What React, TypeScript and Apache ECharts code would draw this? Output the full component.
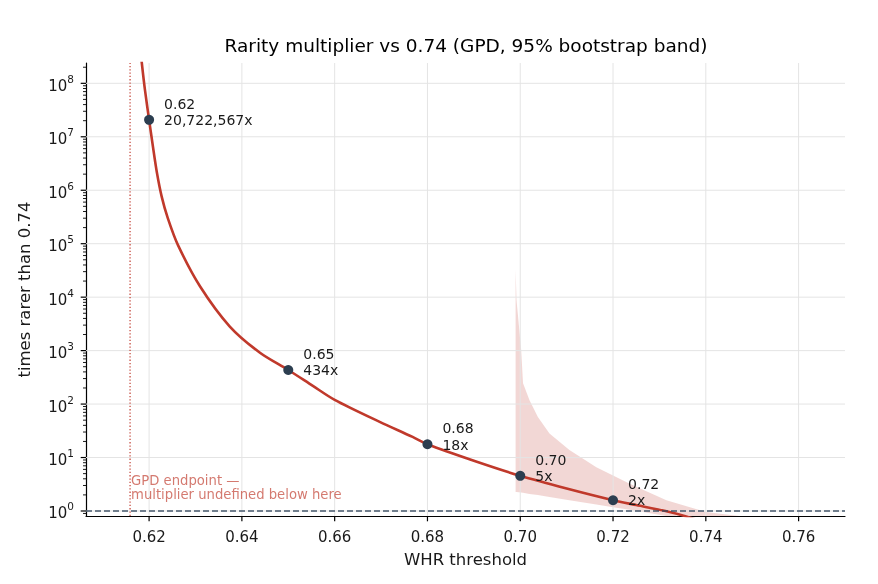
import React, { useEffect, useRef } from "react";
import * as echarts from "echarts";

const FONT = "DejaVu Sans";
const TEXT = "#1a1a1a";

// Curve: times rarer than 0.74
const curveX = [0.618, 0.61843, 0.6191, 0.62, 0.6208, 0.62166, 0.62273, 0.62403, 0.6262, 0.631, 0.6374, 0.6439, 0.65, 0.6553, 0.66, 0.6697, 0.6768, 0.68, 0.69, 0.7, 0.71, 0.72, 0.725, 0.7313, 0.7356, 0.74];
const curveY = [5.6e8, 2.4e8, 7.6e7, 20722567, 6.8e6, 2.2e6, 7.5e5, 3.0e5, 9.5e4, 1.58e4, 2820, 912, 434, 219, 120, 46.5, 24.3, 17.7, 8.7, 4.55, 2.63, 1.59, 1.29, 1.0, 0.8, 0.6];

// Highlighted points
const pointX = [0.62, 0.65, 0.68, 0.7, 0.72];
const pointY = [20722567, 434, 17.7, 4.55, 1.59];
const pointText = ["20,722,567x", "434x", "18x", "5x", "2x"];

// 95% bootstrap band
const bandX = [0.699, 0.6992, 0.7002, 0.7006, 0.702, 0.7038, 0.7063, 0.7106, 0.7164, 0.72, 0.7236, 0.7315, 0.7401, 0.744, 0.7472];
const bandHigh = [32400, 8710, 1023, 245, 117.5, 57.5, 28.2, 13.8, 6.6, 4.6, 3.24, 1.58, 0.955, 0.87, 0.79];
const bandLow = [2.27, 2.26, 2.21, 2.19, 2.09, 2.0, 1.82, 1.58, 1.32, 1.17, 1.05, 0.79, 0.56, 0.5, 0.45];

// Axes
const xTicks = [0.62, 0.64, 0.66, 0.68, 0.7, 0.72, 0.74, 0.76];
const yDecades = [1, 10, 100, 1e3, 1e4, 1e5, 1e6, 1e7, 1e8];
const X_MIN = 0.6064;
const X_MAX = 0.77;
const Y_MIN = 0.806;
const Y_MAX = 2.4e8;

// Reference lines and note
const endpointX = 0.6159;
const baselineY = 1;
const noteY = 2.8;
const noteText = "GPD endpoint —\nmultiplier undefined below here";
const titleText = "Rarity multiplier vs 0.74 (GPD, 95% bootstrap band)";

const yMinor: number[] = [];
for (let k = -1; k <= 8; k++) {
  for (let m = 2; m <= 9; m++) {
    const v = m * Math.pow(10, k);
    if (v > Y_MIN && v < Y_MAX) yMinor.push(v);
  }
}

export default function App() {
  const ref = useRef<HTMLDivElement>(null);

  useEffect(() => {
    if (!ref.current) return;
    const chart = echarts.init(ref.current, null, { renderer: "svg" });

    const option: any = {
      animation: false,
      grid: { left: 86, right: 33, top: 63, bottom: 68, containLabel: false },
      graphic: [
        {
          type: "text",
          x: 466,
          y: 45,
          style: {
            text: titleText,
            fill: "#000",
            font: `18.5px '${FONT}'`,
            align: "center",
            verticalAlign: "middle",
            textAlign: "center",
            textVerticalAlign: "middle",
          },
        },
      ],
      xAxis: {
        type: "value",
        min: X_MIN,
        max: X_MAX,
        splitNumber: 8,
        axisLine: { show: true, onZero: false, lineStyle: { color: "#000", width: 1.2 } },
        axisTick: { show: false },
        splitLine: { show: false },
        axisLabel: {
          margin: 13,
          fontSize: 15,
          fontFamily: FONT,
          color: TEXT,
          formatter: (v: number) => {
            const q = v / 0.02;
            return Math.abs(q - Math.round(q)) < 1e-6 ? v.toFixed(2) : "";
          },
        },
        name: "WHR threshold",
        nameLocation: "middle",
        nameGap: 35,
        nameTextStyle: { fontSize: 16.5, fontFamily: FONT, color: TEXT },
      },
      yAxis: {
        type: "log",
        logBase: 10,
        min: Y_MIN,
        max: Y_MAX,
        splitNumber: 10,
        axisLine: { show: true, onZero: false, lineStyle: { color: "#000", width: 1.2 } },
        axisTick: { show: false },
        minorTick: { show: false },
        splitLine: { show: false },
        axisLabel: {
          margin: 12,
          color: TEXT,
          formatter: (v: number) => {
            const l = Math.log10(v);
            const r = Math.round(l);
            if (Math.abs(l - r) > 1e-6) return "";
            return "{b|10}{s|" + r + "}";
          },
          rich: {
            b: { fontSize: 15, fontFamily: FONT, color: TEXT, padding: [5, 0, 0, 0] },
            s: { fontSize: 10.5, fontFamily: FONT, color: TEXT, verticalAlign: "top" },
          },
        },
        name: "times rarer than 0.74",
        nameLocation: "middle",
        nameGap: 53,
        nameTextStyle: { fontSize: 16.5, fontFamily: FONT, color: TEXT },
      },
      series: [
        {
          name: "band",
          type: "custom",
          silent: true,
          clip: true,
          z: 0,
          data: [[bandX[0], bandHigh[0]]],
          renderItem: (params: any, api: any) => {
            const cs = params.coordSys;
            const bottom = cs.y + cs.height;
            const pts: number[][] = [];
            for (let i = 0; i < bandX.length; i++) {
              const p = api.coord([bandX[i], bandHigh[i]]);
              pts.push([p[0], Math.min(p[1], bottom)]);
            }
            for (let i = bandX.length - 1; i >= 0; i--) {
              const p = api.coord([bandX[i], bandLow[i]]);
              pts.push([p[0], Math.min(p[1], bottom)]);
            }
            return {
              type: "polygon",
              shape: { points: pts },
              style: { fill: "#c0392b", opacity: 0.2 },
            };
          },
        },
        {
          name: "ygrid",
          type: "custom",
          silent: true,
          z: 1,
          data: yDecades.map((v) => [X_MIN, v]),
          renderItem: (params: any, api: any) => {
            const cs = params.coordSys;
            const y = api.coord([X_MIN, api.value(1)])[1];
            return {
              type: "group",
              children: [
                { type: "line", shape: { x1: cs.x, y1: y, x2: cs.x + cs.width, y2: y }, style: { stroke: "#e4e4e4", lineWidth: 1 } },
                { type: "line", shape: { x1: cs.x - 5.3, y1: y, x2: cs.x, y2: y }, style: { stroke: "#000", lineWidth: 1.2 } },
              ],
            };
          },
        },
        {
          name: "yminor",
          type: "custom",
          silent: true,
          z: 1,
          data: yMinor.map((v) => [X_MIN, v]),
          renderItem: (params: any, api: any) => {
            const cs = params.coordSys;
            const y = api.coord([X_MIN, api.value(1)])[1];
            return { type: "line", shape: { x1: cs.x - 3, y1: y, x2: cs.x, y2: y }, style: { stroke: "#000", lineWidth: 0.9 } };
          },
        },
        {
          name: "xgrid",
          type: "custom",
          silent: true,
          z: 1,
          data: xTicks.map((v) => [v, Y_MIN]),
          renderItem: (params: any, api: any) => {
            const cs = params.coordSys;
            const x = api.coord([api.value(0), Y_MIN])[0];
            const b = cs.y + cs.height;
            return {
              type: "group",
              children: [
                { type: "line", shape: { x1: x, y1: cs.y, x2: x, y2: b }, style: { stroke: "#e4e4e4", lineWidth: 1 } },
                { type: "line", shape: { x1: x, y1: b, x2: x, y2: b + 5.3 }, style: { stroke: "#000", lineWidth: 1.2 } },
              ],
            };
          },
        },
        {
          name: "endpoint",
          type: "line",
          z: 2,
          silent: true,
          symbol: "none",
          showSymbol: false,
          lineStyle: { color: "#c0392b", width: 1.3, type: [1.3, 2], opacity: 0.9 },
          data: [
            [endpointX, Y_MIN],
            [endpointX, Y_MAX],
          ],
        },
        {
          name: "baseline",
          type: "line",
          z: 4,
          silent: true,
          symbol: "none",
          showSymbol: false,
          lineStyle: { color: "#34495e", width: 1.6, type: [6, 3], opacity: 0.9 },
          data: [
            [X_MIN, baselineY],
            [X_MAX, baselineY],
          ],
        },
        {
          name: "multiplier",
          type: "line",
          z: 3,
          clip: true,
          symbol: "none",
          showSymbol: false,
          smooth: 0.3,
          lineStyle: { color: "#c0392b", width: 2.6 },
          data: curveX.map((x, i) => [x, curveY[i]]),
        },
        {
          name: "points",
          type: "scatter",
          z: 5,
          symbolSize: 10,
          itemStyle: { color: "#2c3e50", opacity: 1 },
          data: pointX.map((x, i) => [x, pointY[i], pointText[i]]),
          label: {
            show: true,
            position: "right",
            distance: 10,
            offset: [0, -8],
            fontSize: 14,
            lineHeight: 16.5,
            fontFamily: FONT,
            color: TEXT,
            formatter: (p: any) => p.data[0].toFixed(2) + "\n" + p.data[2],
          },
        },
        {
          name: "note",
          type: "scatter",
          z: 4,
          silent: true,
          symbolSize: 0,
          data: [[endpointX, noteY]],
          label: {
            show: true,
            position: "right",
            distance: 1,
            fontSize: 13.2,
            lineHeight: 14,
            fontFamily: FONT,
            color: "rgba(192,57,43,0.85)",
            formatter: noteText,
          },
        },
      ],
    };

    chart.setOption(option);
    return () => chart.dispose();
  }, []);

  return <div ref={ref} style={{ position: "fixed", left: 0, top: 0, width: 878, height: 584 }} />;
}
